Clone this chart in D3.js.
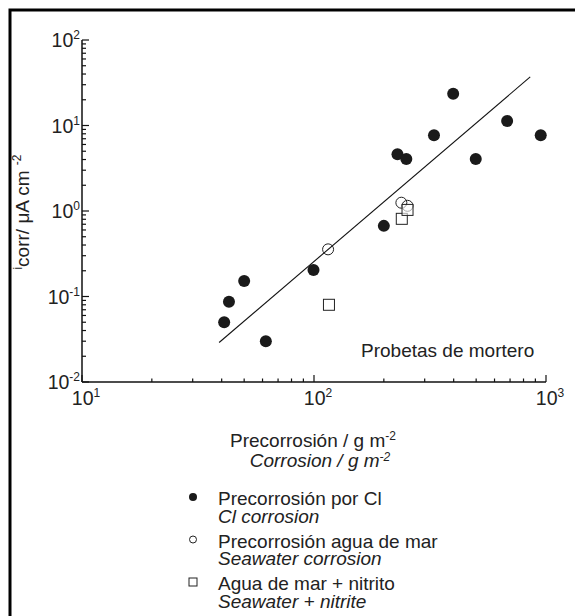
<!DOCTYPE html>
<html>
<head>
<meta charset="utf-8">
<script src="https://cdn.jsdelivr.net/npm/d3@7.9.0/dist/d3.min.js"></script>
<style>
  html, body { margin: 0; padding: 0; background: #fff; }
  svg { display: block; font-family: "Liberation Sans", Arial, sans-serif; }
</style>
</head>
<body>
<div id="chart"></div>
<script>
// ------- data -------
const clX  = [41, 43, 50, 62, 99.5, 200, 229, 250, 329, 398, 498, 680, 949];
const clY  = [0.050, 0.087, 0.152, 0.030, 0.204, 0.67, 4.6, 4.05, 7.7, 23.5, 4.05, 11.3, 7.7];
const seaX = [115, 238, 253];
const seaY = [0.356, 1.25, 1.15];
const nitX = [116, 239, 253];
const nitY = [0.080, 0.81, 1.03];
const fitX = [39, 855];
const fitY = [0.029, 37];

const xDecades = [1, 2, 3];
const yDecades = [-2, -1, 0, 1, 2];

const legendItems = [
  { shape: 'filled', es: 'Precorrosión por Cl', en: 'Cl corrosion' },
  { shape: 'open',   es: 'Precorrosión agua de mar', en: 'Seawater corrosion' },
  { shape: 'square', es: 'Agua de mar + nitrito', en: 'Seawater + nitrite' },
];

const width = 575, height = 616;
const svg = d3.select('#chart').append('svg')
  .attr('width', width).attr('height', height);

// outer frame (open at right/bottom, runs off the page)
svg.append('path')
  .attr('d', `M10,${height + 5} L10,10 L${width + 5},10`)
  .attr('fill', 'none').attr('stroke', '#000').attr('stroke-width', 3);

const x = d3.scaleLog().domain([10, 1000]).range([82, 546]);
const y = d3.scaleLog().domain([0.01, 100]).range([382, 40]);

// ------- axes -------
const ax = svg.append('g').attr('stroke', '#111').attr('stroke-width', 1.5);
ax.append('line').attr('x1', x(10)).attr('x2', x(1000)).attr('y1', y(0.01)).attr('y2', y(0.01));
ax.append('line').attr('x1', x(10)).attr('x2', x(10)).attr('y1', y(0.01)).attr('y2', y(100));

const xTicks = x.ticks();
ax.selectAll('.xt').data(xTicks).join('line')
  .attr('stroke-width', 1.2)
  .attr('x1', d => x(d)).attr('x2', d => x(d))
  .attr('y1', y(0.01))
  .attr('y2', d => y(0.01) - (Number.isInteger(Math.log10(d)) ? 7 : 3.5));

const yTicks = y.ticks();
ax.selectAll('.yt').data(yTicks).join('line')
  .attr('stroke-width', 1.2)
  .attr('y1', d => y(d)).attr('y2', d => y(d))
  .attr('x1', x(10))
  .attr('x2', d => x(10) + (Math.abs(Math.log10(d) - Math.round(Math.log10(d))) < 1e-9 ? 7 : 4));

function powerLabel(sel, exp) {
  sel.append('tspan').text('10');
  sel.append('tspan').attr('font-size', 12).attr('dy', -8).text(exp);
}

svg.selectAll('.xl').data(xDecades).join('text')
  .attr('x', d => x(Math.pow(10, d)) + 4)
  .attr('y', 405)
  .attr('text-anchor', 'middle')
  .attr('font-size', 19.5)
  .attr('fill', '#222')
  .each(function (d) { powerLabel(d3.select(this), String(d)); });

svg.selectAll('.yl').data(yDecades).join('text')
  .attr('x', 80)
  .attr('y', d => y(Math.pow(10, d)) + 7)
  .attr('text-anchor', 'end')
  .attr('font-size', 19.5)
  .attr('fill', '#222')
  .each(function (d) { powerLabel(d3.select(this), d < 0 ? '-' + Math.abs(d) : String(d)); });

// ------- fit line -------
svg.append('line')
  .attr('x1', x(fitX[0])).attr('y1', y(fitY[0]))
  .attr('x2', x(fitX[1])).attr('y2', y(fitY[1]))
  .attr('stroke', '#111').attr('stroke-width', 1.1);

// ------- points -------
const pts = svg.append('g');
pts.selectAll('.cl').data(d3.zip(clX, clY)).join('circle')
  .attr('cx', d => x(d[0])).attr('cy', d => y(d[1])).attr('r', 6)
  .attr('fill', '#1a1a1a');

pts.selectAll('.sea').data(d3.zip(seaX, seaY)).join('circle')
  .attr('cx', d => x(d[0])).attr('cy', d => y(d[1])).attr('r', 5.5)
  .attr('fill', '#fff').attr('fill-opacity', 0).attr('stroke', '#222').attr('stroke-width', 1);

pts.selectAll('.nit').data(d3.zip(nitX, nitY)).join('rect')
  .attr('x', d => x(d[0]) - 5.5).attr('y', d => y(d[1]) - 5.5)
  .attr('width', 11).attr('height', 11)
  .attr('fill', '#fff').attr('fill-opacity', 0.6).attr('stroke', '#222').attr('stroke-width', 1);

svg.append('text')
  .attr('x', 361).attr('y', 357)
  .attr('font-size', 19).attr('fill', '#222')
  .text('Probetas de mortero');

// ------- axis titles -------
const yTitle = svg.append('text')
  .attr('transform', 'translate(29,212) rotate(-90)')
  .attr('text-anchor', 'middle')
  .attr('font-size', 19).attr('fill', '#222');
yTitle.append('tspan').attr('font-size', 12).attr('dy', -7).text('i');
yTitle.append('tspan').attr('dy', 7).text('corr/ μA cm ');
yTitle.append('tspan').attr('font-size', 12).attr('dy', -8).text('-2');

const xTitle = svg.append('text')
  .attr('x', 313).attr('y', 447)
  .attr('text-anchor', 'middle')
  .attr('font-size', 19).attr('fill', '#222');
xTitle.append('tspan').text('Precorrosión / g m');
xTitle.append('tspan').attr('font-size', 12).attr('dy', -7).text('-2');

const xTitle2 = svg.append('text')
  .attr('x', 320).attr('y', 467)
  .attr('text-anchor', 'middle')
  .attr('font-size', 19).attr('font-style', 'italic').attr('fill', '#222');
xTitle2.append('tspan').text('Corrosion / g m');
xTitle2.append('tspan').attr('font-size', 12).attr('dy', -6).text('-2');

// ------- legend -------
const legend = svg.append('g');
legendItems.forEach((item, i) => {
  const cy = 497 + i * 42.5;
  const g = legend.append('g');
  if (item.shape === 'filled') {
    g.append('circle').attr('cx', 193).attr('cy', cy).attr('r', 4).attr('fill', '#1a1a1a');
  } else if (item.shape === 'open') {
    g.append('circle').attr('cx', 193).attr('cy', cy).attr('r', 3.5)
      .attr('fill', 'none').attr('stroke', '#222').attr('stroke-width', 1);
  } else {
    g.append('rect').attr('x', 189).attr('y', cy - 4).attr('width', 8).attr('height', 8)
      .attr('fill', 'none').attr('stroke', '#222').attr('stroke-width', 1);
  }
  g.append('text').attr('x', 218).attr('y', cy + 8)
    .attr('font-size', 19).attr('fill', '#222').text(item.es);
  g.append('text').attr('x', 218).attr('y', cy + 25.5)
    .attr('font-size', 19).attr('font-style', 'italic').attr('fill', '#222').text(item.en);
});
</script>
</body>
</html>
